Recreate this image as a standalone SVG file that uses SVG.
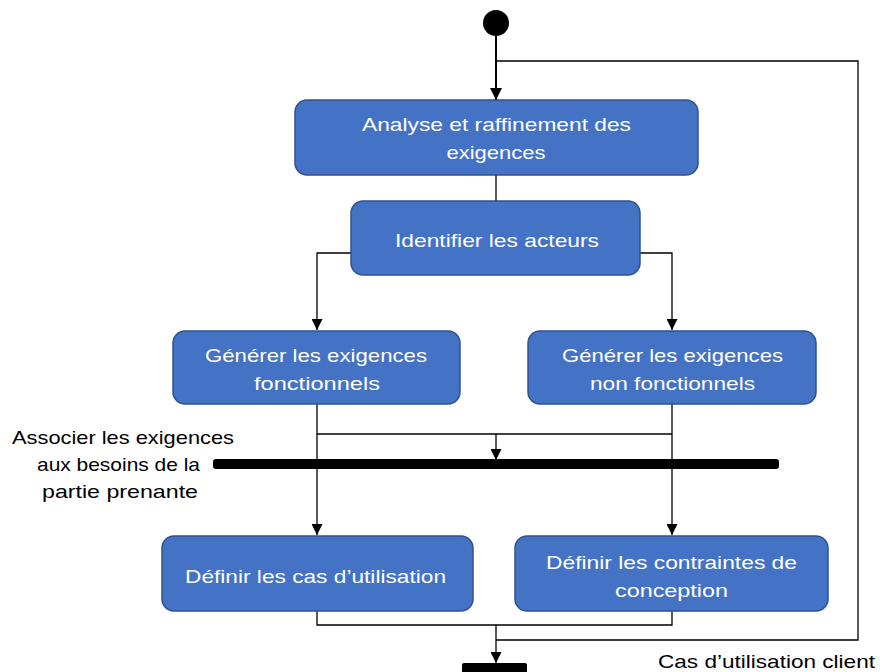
<svg xmlns="http://www.w3.org/2000/svg" width="880" height="672" viewBox="0 0 880 672">
  <style>
    .act { fill: #4472C4; stroke: #2F528F; stroke-width: 1.5; }
    .lbl { font-family: "Liberation Sans", Arial, sans-serif; font-size: 19px; fill: #FFFFFF; text-anchor: middle; }
    .note { font-family: "Liberation Sans", Arial, sans-serif; font-size: 19px; fill: #000000; text-anchor: middle; }
    .wire { fill: none; stroke: #000000; stroke-width: 1.3; }
    .bar { fill: #000000; }
  </style>
  <defs>
    <marker id="arrow" viewBox="0 0 10 10" refX="10" refY="5" markerWidth="11" markerHeight="11" markerUnits="userSpaceOnUse" orient="auto">
      <path d="M0,0 L10,5 L0,10 Z" fill="#000000"/>
    </marker>
    <marker id="arrowBig" viewBox="0 0 10 10" refX="10" refY="5" markerWidth="12" markerHeight="12" markerUnits="userSpaceOnUse" orient="auto">
      <path d="M0,0 L10,5 L0,10 Z" fill="#000000"/>
    </marker>
  </defs>

  <rect width="880" height="672" fill="#FFFFFF"/>

  <!-- connectors -->
  <g id="connectors">
    <path class="wire" d="M496,36 V100" style="stroke-width:2" marker-end="url(#arrowBig)"/>
    <path class="wire" d="M496,61 H858 V640 H496"/>
    <path class="wire" d="M496,175 V201"/>
    <path class="wire" d="M351,253 H317 V330" marker-end="url(#arrow)"/>
    <path class="wire" d="M640,253 H672 V330" marker-end="url(#arrow)"/>
    <path class="wire" d="M317,404 V535" marker-end="url(#arrow)"/>
    <path class="wire" d="M672,404 V535" marker-end="url(#arrow)"/>
    <path class="wire" d="M317,434 H672"/>
    <path class="wire" d="M496,434 V460" marker-end="url(#arrow)"/>
    <path class="wire" d="M317,611 V625 H672 V611"/>
    <path class="wire" d="M496,625 V663" marker-end="url(#arrow)"/>
  </g>

  <g id="start">
    <circle cx="496" cy="23" r="13" fill="#000000"/>
  </g>

  <g id="analyse">
    <rect class="act" x="295" y="100" width="403" height="75" rx="12"/>
    <text class="lbl" x="496.5" y="131" textLength="269" lengthAdjust="spacingAndGlyphs">Analyse et raffinement des</text>
    <text class="lbl" x="496" y="159" textLength="99" lengthAdjust="spacingAndGlyphs">exigences</text>
  </g>

  <g id="acteurs">
    <rect class="act" x="351" y="201" width="289" height="74" rx="12"/>
    <text class="lbl" x="497" y="247" textLength="204" lengthAdjust="spacingAndGlyphs">Identifier les acteurs</text>
  </g>

  <g id="fonctionnels">
    <rect class="act" x="173" y="331" width="287" height="73" rx="12"/>
    <text class="lbl" x="316" y="362" textLength="222" lengthAdjust="spacingAndGlyphs">Générer les exigences</text>
    <text class="lbl" x="317" y="390" textLength="126" lengthAdjust="spacingAndGlyphs">fonctionnels</text>
  </g>

  <g id="non-fonctionnels">
    <rect class="act" x="528" y="331" width="288" height="73" rx="12"/>
    <text class="lbl" x="672.5" y="362" textLength="221" lengthAdjust="spacingAndGlyphs">Générer les exigences</text>
    <text class="lbl" x="672.5" y="390" textLength="165" lengthAdjust="spacingAndGlyphs">non fonctionnels</text>
  </g>

  <g id="associer">
    <rect class="bar" x="213" y="459" width="566" height="10" rx="3"/>
    <text class="note" x="123" y="444" textLength="222" lengthAdjust="spacingAndGlyphs">Associer les exigences</text>
    <text class="note" x="118.5" y="471" textLength="163" lengthAdjust="spacingAndGlyphs">aux besoins de la</text>
    <text class="note" x="120" y="498" textLength="156" lengthAdjust="spacingAndGlyphs">partie prenante</text>
  </g>

  <g id="cas-utilisation">
    <rect class="act" x="162" y="536" width="311" height="75" rx="12"/>
    <text class="lbl" x="315.5" y="583" textLength="261" lengthAdjust="spacingAndGlyphs">Définir les cas d’utilisation</text>
  </g>

  <g id="contraintes">
    <rect class="act" x="515" y="536" width="313" height="75" rx="12"/>
    <text class="lbl" x="671.5" y="569" textLength="251" lengthAdjust="spacingAndGlyphs">Définir les contraintes de</text>
    <text class="lbl" x="671.5" y="597" textLength="113" lengthAdjust="spacingAndGlyphs">conception</text>
  </g>

  <g id="fin">
    <rect class="bar" x="462" y="663" width="65" height="14" rx="2"/>
    <text class="note" x="766.5" y="668" textLength="217" lengthAdjust="spacingAndGlyphs">Cas d’utilisation client</text>
  </g>
</svg>
